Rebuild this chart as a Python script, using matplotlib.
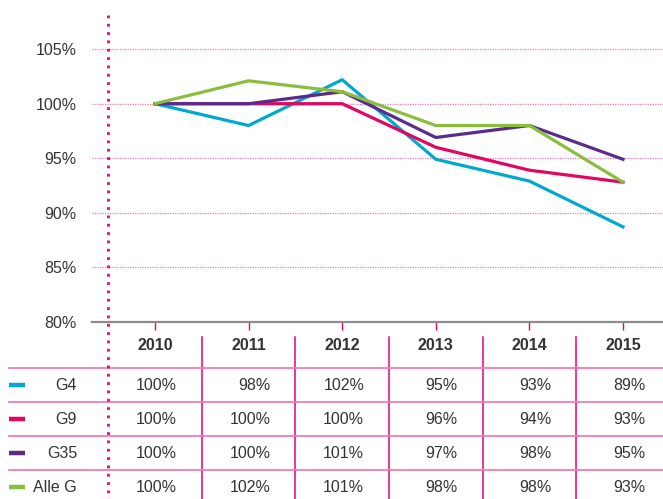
import matplotlib
matplotlib.use('Agg')
import matplotlib.pyplot as plt

plt.rcParams['font.family'] = ['Liberation Sans', 'DejaVu Sans']

# data
years = ['2010', '2011', '2012', '2013', '2014', '2015']
series_names = ['G4', 'G9', 'G35', 'Alle G']
g4 = [100, 98.0, 102.2, 94.9, 92.9, 88.7]
g9 = [100, 100, 100, 96.0, 93.9, 92.8]
g35 = [100, 100, 101.1, 96.9, 98.0, 94.9]
alle_g = [100, 102.1, 101.1, 98.0, 98.0, 92.8]
series = [g4, g9, g35, alle_g]
colors = ['#00a9cf', '#e2065e', '#5b2c8c', '#8abd3c']
yticks = [80, 85, 90, 95, 100, 105]

pink = '#e8007d'
grid_pink = '#f27ab5'
text_col = '#333333'
W, H = 663, 499

fig = plt.figure(figsize=(W / 100, H / 100), dpi=100)

# main line chart, placed in pixel terms
x0, x1, ybot, ytop = 92, 663, 321.7, 15
ax = fig.add_axes([x0 / W, (H - ybot) / H, (x1 - x0) / W, (ybot - ytop) / H])
px_per_unit = 10.9
step = 93.6
ax.set_ylim(80, 80 + (ybot - ytop) / px_per_unit)
ax.set_xlim(-(155 - x0) / step, 5 + (x1 - 623) / step)

xs = list(range(len(years)))
for vals, c in zip(series, colors):
    ax.plot(xs, vals, color=c, lw=2.3, solid_joinstyle='miter', zorder=3)

for y in yticks[1:]:
    ax.axhline(y, color=grid_pink, lw=0.9, ls=(0, (1, 1)), zorder=1)

for s in ['top', 'right', 'left']:
    ax.spines[s].set_visible(False)
ax.spines['bottom'].set_color('#8c8c8c')
ax.spines['bottom'].set_linewidth(1.6)
ax.set_yticks(yticks)
ax.set_yticklabels([f'{y}%' for y in yticks], fontsize=11.5, color=text_col)
ax.tick_params(axis='y', length=0, pad=11)
ax.set_xticks(xs)
ax.tick_params(axis='x', direction='out', length=6, width=1, color=pink,
               labelbottom=False)
ax.patch.set_alpha(0)

# table below, drawn on a pixel overlay
ov = fig.add_axes([0, 0, 1, 1], zorder=5)
ov.set_xlim(0, W)
ov.set_ylim(H, 0)
ov.axis('off')
ov.patch.set_alpha(0)

def col_px(i):
    return ax.transData.transform((i, 80))[0]

cx = [col_px(i) for i in xs]

# header
for x, yr in zip(cx, years):
    ov.text(x, 346, yr, ha='center', va='center', fontsize=11.5,
            fontweight='bold', color=text_col)

# column separators
for i in range(len(years) - 1):
    xm = col_px(i + 0.5)
    ov.plot([xm, xm], [337, H], color=pink, lw=1.1)

# row separators
for y in [367.5, 402, 436, 470]:
    ov.plot([9, W], [y, y], color=grid_pink, lw=1.3)

row_y = [385, 419, 453, 487]
for name, vals, c, y in zip(series_names, series, colors, row_y):
    ov.plot([9, 25], [y, y], color=c, lw=3.2, solid_capstyle='butt')
    ov.text(77, y, name, ha='right', va='center', fontsize=11.5, color=text_col)
    for x, v in zip(cx, vals):
        ov.text(x + 22, y, f'{v:.0f}%', ha='right', va='center',
                fontsize=11.5, color=text_col)

# pink dotted vertical line
ov.plot([107.5, 107.5], [15, H], color=pink, lw=2, ls=(0, (1, 2)),
        dash_capstyle='butt')

fig.savefig('out.png', dpi=100)
